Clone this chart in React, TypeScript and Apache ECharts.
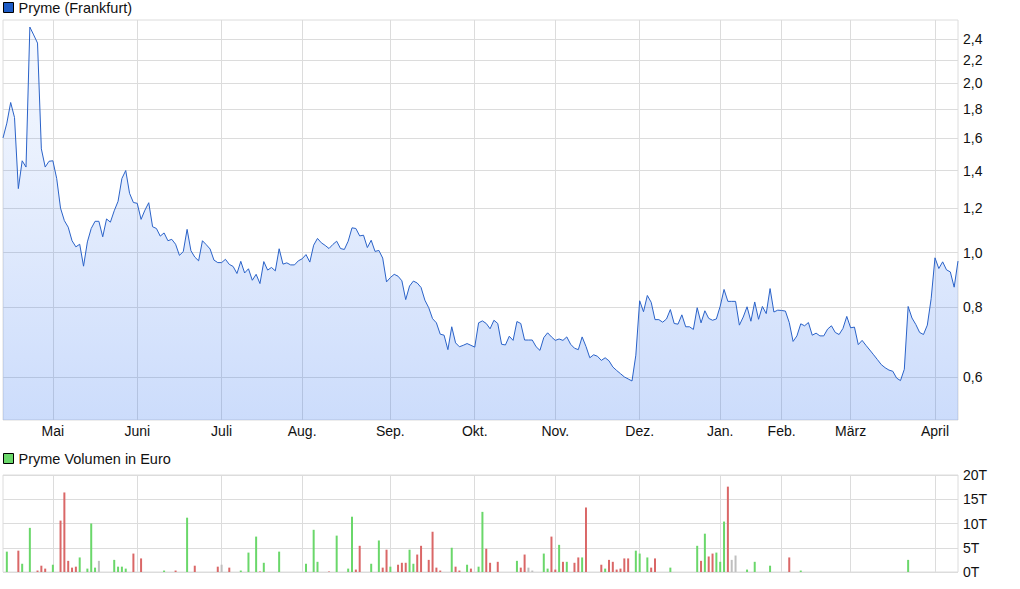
import React, { useEffect, useRef } from 'react';
import * as echarts from 'echarts';

// Month labels for the x axis ('' = partial first month, no gridline)
const monthLabels = ['', 'Mai', 'Juni', 'Juli', 'Aug.', 'Sep.', 'Okt.', 'Nov.', 'Dez.', 'Jan.', 'Feb.', 'März', 'April'];

// Daily prices in EUR, grouped by month
const priceApr1 = [1.6, 1.7, 1.85, 1.74, 1.3, 1.457, 1.42, 2.52, 2.44, 2.36, 1.53, 1.42, 1.454];
const priceMai = [1.457, 1.355, 1.2, 1.14, 1.11, 1.05, 1.024, 1.035, 0.946, 1.045, 1.104, 1.137, 1.137, 1.067, 1.148, 1.133, 1.187, 1.234, 1.355, 1.4, 1.275, 1.228];
const priceJun = [1.224, 1.146, 1.19, 1.227, 1.112, 1.104, 1.07, 1.084, 1.05, 1.056, 1.035, 0.989, 1.004, 1.1, 1.008, 0.982, 0.967, 1.05, 1.033, 1.015, 0.97, 0.96];
const priceJul = [0.96, 0.973, 0.953, 0.945, 0.918, 0.965, 0.92, 0.936, 0.893, 0.915, 0.881, 0.964, 0.931, 0.941, 0.928, 1.016, 0.954, 0.959, 0.951, 0.951, 0.967];
const priceAug = [0.975, 0.992, 0.962, 1.031, 1.06, 1.041, 1.03, 1.017, 1.034, 1.048, 1.017, 1.013, 1.048, 1.107, 1.104, 1.071, 1.074, 1.021, 1.052, 1.005, 1.009, 0.978, 0.887];
const priceSep = [0.903, 0.915, 0.908, 0.891, 0.825, 0.872, 0.89, 0.883, 0.867, 0.823, 0.798, 0.763, 0.75, 0.716, 0.713, 0.672, 0.738, 0.691, 0.68, 0.684, 0.689, 0.684];
const priceOkt = [0.679, 0.75, 0.756, 0.748, 0.732, 0.758, 0.748, 0.687, 0.685, 0.71, 0.698, 0.754, 0.748, 0.699, 0.699, 0.699, 0.68, 0.67, 0.706, 0.72, 0.708];
const priceNov = [0.698, 0.702, 0.698, 0.708, 0.687, 0.676, 0.672, 0.708, 0.681, 0.65, 0.658, 0.654, 0.643, 0.65, 0.642, 0.626, 0.617, 0.609, 0.601, 0.596, 0.591, 0.657];
const priceDez = [0.821, 0.785, 0.839, 0.816, 0.76, 0.76, 0.752, 0.762, 0.792, 0.748, 0.746, 0.775, 0.738, 0.738, 0.73, 0.798, 0.75, 0.788, 0.764, 0.758, 0.762];
const priceJan = [0.803, 0.86, 0.819, 0.819, 0.819, 0.743, 0.768, 0.801, 0.755, 0.817, 0.761, 0.802, 0.779, 0.863, 0.784, 0.79];
const priceFeb = [0.789, 0.787, 0.751, 0.695, 0.711, 0.747, 0.741, 0.751, 0.713, 0.719, 0.711, 0.711, 0.731, 0.741, 0.721, 0.715, 0.733, 0.77];
const priceMar = [0.735, 0.737, 0.686, 0.698, 0.684, 0.671, 0.658, 0.645, 0.632, 0.624, 0.618, 0.615, 0.598, 0.592, 0.62, 0.802, 0.765, 0.745, 0.721, 0.715, 0.743, 0.828];
const priceApr2 = [0.979, 0.937, 0.963, 0.932, 0.924, 0.868, 0.966];

const priceMonths = [priceApr1, priceMai, priceJun, priceJul, priceAug, priceSep, priceOkt, priceNov, priceDez, priceJan, priceFeb, priceMar, priceApr2];

// Price axis tick labels
const priceTicks = [0.6, 0.8, 1.0, 1.2, 1.4, 1.6, 1.8, 2.0, 2.2, 2.4];
const priceMin = 0.5037;
const priceMax = 2.594;

// Volume (in thousands, "T") by trading-day index; trend: 1 up, -1 down, 0 unchanged
const volumeDay = [1, 4, 5, 7, 9, 10, 11, 13, 15, 16, 17, 18, 19, 20, 22, 23, 24, 25, 29, 30, 31, 32, 34, 36, 42, 45, 48, 50, 56, 57, 59, 62, 64, 66, 67, 68, 72, 79, 81, 82, 85, 87, 90, 91, 92, 93, 96, 98, 99, 100, 101, 103, 104, 105, 106, 107, 108, 109, 111, 112, 113, 114, 117, 118, 119, 121, 122, 124, 125, 126, 127, 129, 134, 135, 136, 137, 138, 141, 142, 143, 144, 145, 146, 147, 149, 150, 151, 152, 156, 157, 158, 159, 160, 161, 162, 163, 165, 166, 168, 169, 170, 174, 181, 182, 183, 184, 185, 186, 187, 188, 189, 190, 191, 194, 196, 200, 205, 208, 236];
const volumeValue = [4.2, 4.4, 1.7, 9.1, 0.3, 1.3, 0.7, 1.5, 10.6, 16.4, 2.3, 0.9, 1.1, 3.0, 0.7, 10.0, 0.9, 2.3, 2.5, 1.1, 1.1, 0.7, 3.8, 2.8, 0.3, 0.3, 11.2, 1.3, 1.1, 1.5, 0.9, 0.3, 4.0, 7.3, 0.1, 1.9, 4.2, 1.7, 8.7, 2.1, 0.1, 7.5, 0.7, 11.4, 0.5, 5.4, 1.7, 6.5, 0.9, 4.6, 1.1, 1.5, 1.9, 1.9, 4.6, 1.7, 3.6, 5.4, 2.5, 8.3, 0.9, 0.3, 5.0, 1.1, 0.3, 1.5, 0.7, 1.1, 12.4, 4.8, 1.9, 2.1, 2.3, 0.9, 3.6, 0.9, 0.3, 3.8, 0.7, 7.3, 0.5, 5.6, 2.1, 2.1, 1.9, 3.0, 3.0, 13.3, 1.5, 0.7, 2.5, 2.1, 0.5, 0.7, 2.8, 2.8, 4.4, 3.8, 3.0, 0.9, 2.8, 0.9, 5.4, 2.3, 7.9, 3.2, 3.8, 4.0, 2.1, 10.4, 17.6, 2.5, 3.4, 0.5, 2.1, 1.3, 3.0, 0.3, 2.5];
const volumeTrend = [1, -1, 1, 1, -1, -1, -1, 1, -1, -1, -1, -1, -1, 1, 1, 1, 1, 0, 1, 1, 1, 1, -1, -1, 1, -1, 1, -1, -1, 0, -1, 1, 1, 1, -1, 1, 1, 1, 1, 1, -1, 1, 1, 1, -1, -1, 1, 1, -1, -1, 1, -1, -1, -1, 1, 1, -1, -1, -1, -1, -1, -1, 1, -1, -1, 1, -1, 1, 1, -1, -1, -1, 1, -1, -1, 0, 0, 1, 1, -1, -1, 1, -1, 1, -1, -1, 1, -1, -1, 1, -1, -1, -1, -1, -1, -1, 1, 1, 1, -1, -1, 1, 1, -1, 1, -1, -1, 1, 1, 1, -1, 0, 0, 1, 1, 1, -1, 1, 1];
const volumeTicks = [0, 5, 10, 15, 20];

const trendColor: Record<string, string> = { '1': '#6ad76a', '-1': '#da6767', '0': '#bfbfbf' };

export default function App() {
  const ref = useRef<HTMLDivElement>(null);

  useEffect(() => {
    document.body.style.margin = '0';
    if (!ref.current) return;
    const chart = echarts.init(ref.current, undefined, { renderer: 'svg' });

    const categories: string[] = [];
    const monthStart = new Map<number, string>();
    priceMonths.forEach((m, mi) => {
      if (mi > 0) monthStart.set(categories.length, monthLabels[mi]);
      m.forEach((_, di) => categories.push(`${mi}-${di}`));
    });
    const prices = priceMonths.flat();
    const volumeData: any[] = categories.map(() => null);
    volumeDay.forEach((d, i) => {
      volumeData[d] = { value: volumeValue[i], itemStyle: { color: trendColor[String(volumeTrend[i])] } };
    });

    const isStart = (idx: number) => monthStart.has(idx);
    const font = 'Liberation Sans, Arial, Helvetica, sans-serif';
    const gridLine = { show: true, lineStyle: { color: '#dcdcdc', width: 1 } };

    chart.setOption({
      animation: false,
      backgroundColor: '#fff',
      textStyle: { fontFamily: font },
      legend: [
        {
          data: ['Pryme (Frankfurt)'],
          left: 3,
          top: 0,
          padding: 0,
          icon: 'rect',
          itemWidth: 10,
          itemHeight: 10,
          itemStyle: { color: '#1e5cc6', borderColor: '#000', borderWidth: 1 },
          textStyle: { fontSize: 14.5, color: '#111', fontFamily: font },
          selectedMode: false,
        },
        {
          data: ['Pryme Volumen in Euro'],
          left: 3,
          top: 451,
          padding: 0,
          icon: 'rect',
          itemWidth: 10,
          itemHeight: 10,
          itemStyle: { color: '#6ad76a', borderColor: '#000', borderWidth: 1 },
          textStyle: { fontSize: 14.5, color: '#111', fontFamily: font },
          selectedMode: false,
        },
      ],
      grid: [
        { left: 3, right: 62, top: 20, height: 400, show: true, borderColor: '#dcdcdc', borderWidth: 1 },
        { left: 3, right: 62, top: 475, height: 97, show: true, borderColor: '#dcdcdc', borderWidth: 1 },
      ],
      xAxis: [
        {
          type: 'category',
          gridIndex: 0,
          data: categories,
          boundaryGap: false,
          axisLine: { show: false },
          axisTick: { show: true, length: 2, interval: (idx: number) => isStart(idx), lineStyle: { color: '#dcdcdc' } },
          axisLabel: {
            interval: (idx: number) => isStart(idx),
            formatter: (_v: string, idx: number) => monthStart.get(idx) ?? '',
            fontSize: 14,
            color: '#111',
            margin: 4,
            fontFamily: font,
          },
          splitLine: { ...gridLine, interval: (idx: number) => isStart(idx) },
        },
        {
          type: 'category',
          gridIndex: 1,
          data: categories,
          boundaryGap: false,
          axisLine: { show: false },
          axisTick: { show: false },
          axisLabel: { show: false },
          splitLine: { ...gridLine, interval: (idx: number) => isStart(idx) },
        },
      ],
      yAxis: [
        {
          type: 'value',
          gridIndex: 0,
          position: 'right',
          min: Math.log(priceMin),
          max: Math.log(priceMax),
          axisLine: { show: false },
          axisTick: { show: false, customValues: priceTicks.map(Math.log) },
          axisLabel: {
            customValues: priceTicks.map(Math.log),
            formatter: (v: number) => Math.exp(v).toFixed(1).replace('.', ','),
            fontSize: 14,
            color: '#111',
            margin: 5,
            fontFamily: font,
          },
          splitLine: gridLine,
        },
        {
          type: 'value',
          gridIndex: 1,
          position: 'right',
          min: volumeTicks[0],
          max: volumeTicks[volumeTicks.length - 1],
          interval: 5,
          axisLine: { show: false },
          axisTick: { show: false },
          axisLabel: { formatter: '{value}T', fontSize: 14, color: '#111', margin: 5, fontFamily: font },
          splitLine: gridLine,
        },
      ],
      series: [
        {
          name: 'Pryme (Frankfurt)',
          type: 'line',
          xAxisIndex: 0,
          yAxisIndex: 0,
          data: prices.map((p) => Math.log(p)),
          symbol: 'none',
          itemStyle: { color: '#1e5cc6' },
          lineStyle: { color: '#2a62c8', width: 1 },
          areaStyle: {
            origin: 'start',
            color: new echarts.graphic.LinearGradient(0, 0, 0, 1, [
              { offset: 0, color: 'rgba(35,105,240,0.05)' },
              { offset: 1, color: 'rgba(35,105,240,0.33)' },
            ]),
          },
        },
        {
          name: 'Pryme Volumen in Euro',
          type: 'bar',
          xAxisIndex: 1,
          yAxisIndex: 1,
          data: volumeData,
          barWidth: 2,
          itemStyle: { color: '#6ad76a' },
        },
      ],
    });

    return () => chart.dispose();
  }, []);

  return <div ref={ref} style={{ position: 'absolute', left: 0, top: 0, width: 1020, height: 589 }} />;
}
